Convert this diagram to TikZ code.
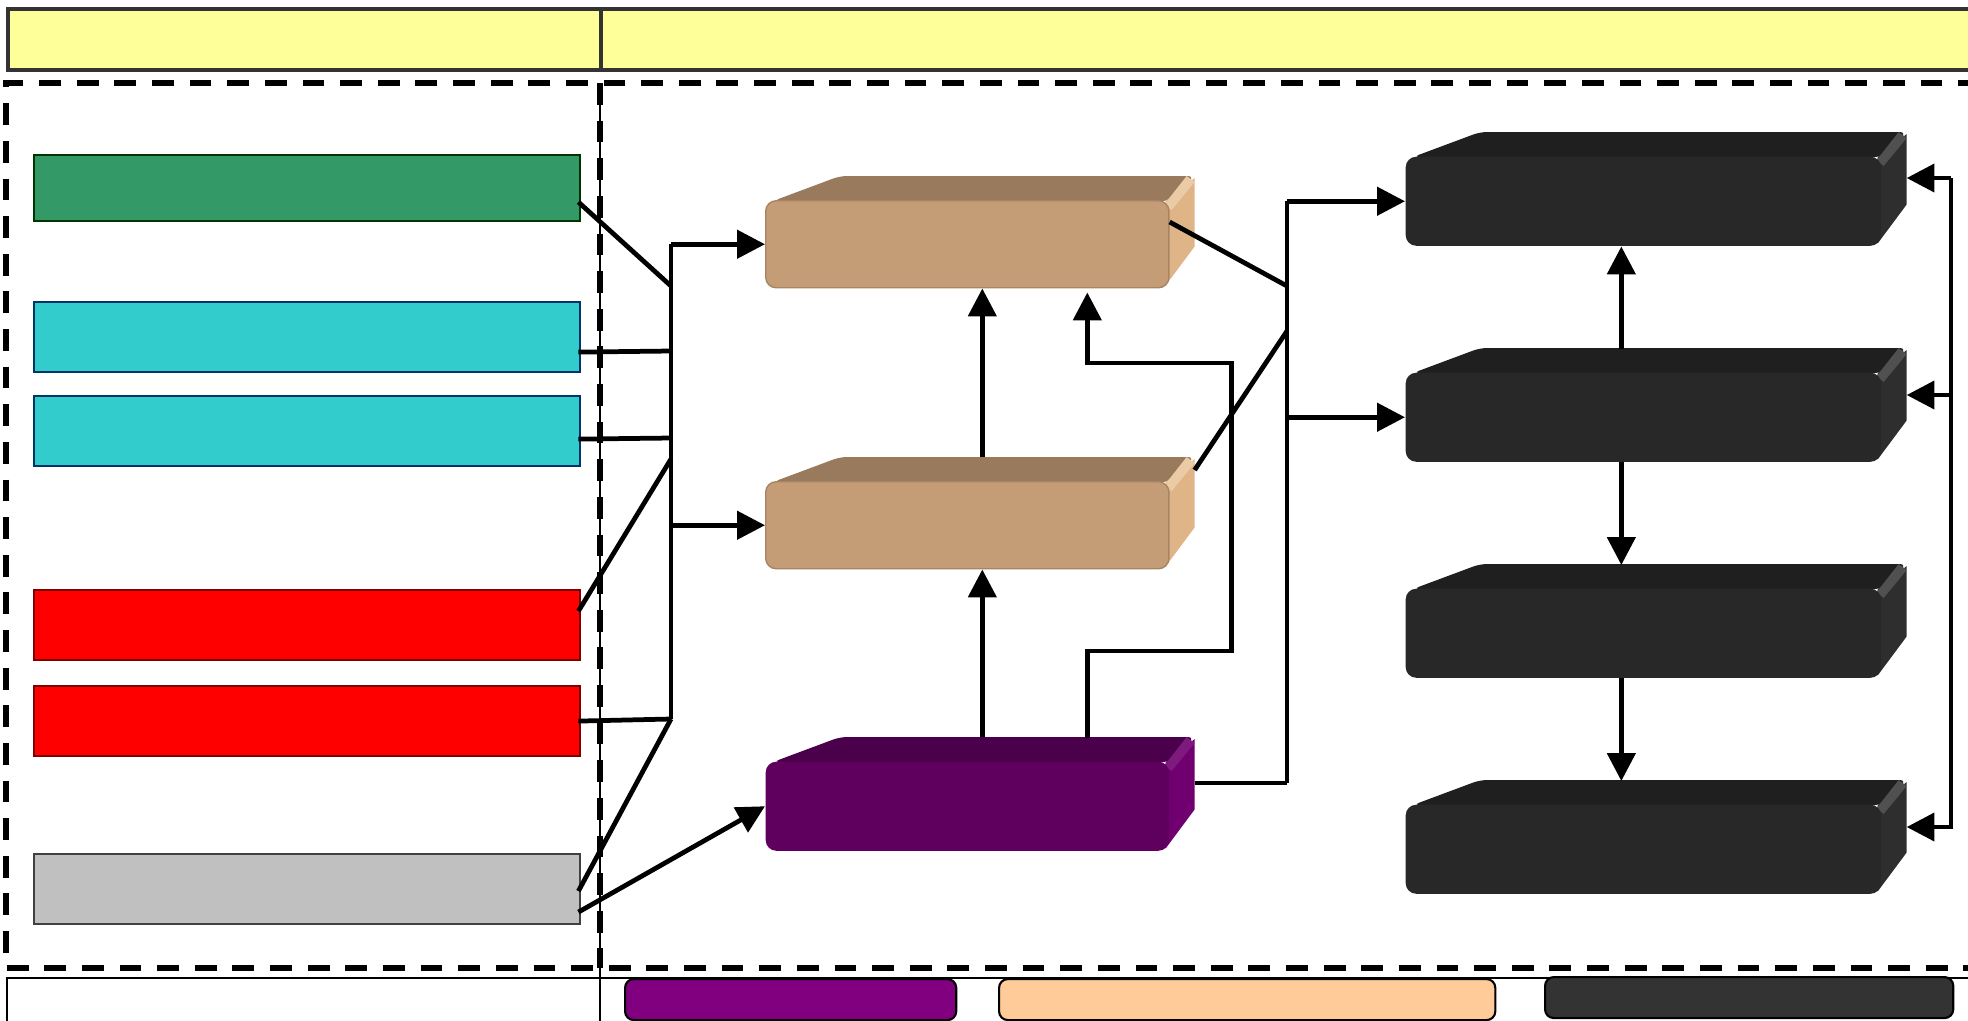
\documentclass[tikz,border=0pt]{standalone}
\usepackage{xcolor}
\usetikzlibrary{arrows.meta,calc,backgrounds}

\definecolor{hdryellow}{HTML}{FFFF99}
\definecolor{hdrline}{HTML}{333333}
\definecolor{srcgreen}{HTML}{339966}
\definecolor{srcgreenln}{HTML}{003300}
\definecolor{srccyan}{HTML}{33CCCC}
\definecolor{srccyanln}{HTML}{003366}
\definecolor{srcred}{HTML}{FF0000}
\definecolor{srcredln}{HTML}{800000}
\definecolor{srcgrey}{HTML}{C0C0C0}
\definecolor{srcgreyln}{HTML}{404040}
\definecolor{tanfront}{HTML}{C49C76}
\definecolor{tantop}{HTML}{997A5C}
\definecolor{tanside}{HTML}{DFB588}
\definecolor{tanbevel}{HTML}{EBCBA6}
\definecolor{purpfront}{HTML}{5F005F}
\definecolor{purptop}{HTML}{4A004A}
\definecolor{purpside}{HTML}{700070}
\definecolor{purpbevel}{HTML}{7E1A7E}
\definecolor{darkfront}{HTML}{282828}
\definecolor{darktop}{HTML}{1F1F1F}
\definecolor{darkside}{HTML}{2E2E2E}
\definecolor{darkbevel}{HTML}{505050}
\definecolor{keypurple}{HTML}{800080}
\definecolor{keytan}{HTML}{FFCC99}
\definecolor{keydark}{HTML}{333333}

\begin{document}
\begin{tikzpicture}[x=0.01cm, y=-0.01cm,
  conn/.style={line width=1.35pt},
  arr/.style={conn, -{Triangle[length=7.9pt,width=7.9pt]}},
  zone/.style={line width=1.5pt, dash pattern=on 6.2pt off 4.5pt},
  srcbox/.style={draw, line width=0.6pt, anchor=north west, inner sep=0pt,
    minimum width=5.46cm, minimum height=0.70cm},
  slab/.style={anchor=north west, inner sep=0pt, rounded corners=3pt,
    minimum width=4.03cm, minimum height=0.87cm},
  dev/.style={anchor=north west, inner sep=0pt, rounded corners=3pt, fill=darkfront,
    minimum width=4.75cm, minimum height=0.89cm},
  keybox/.style={draw=black, line width=0.6pt, anchor=north west, inner sep=0pt,
    rounded corners=2.5pt, minimum height=0.41cm}]

\useasboundingbox (0,0) rectangle (1968,1020);

% Header bar
\draw[hdrline, line width=0.9pt, fill=hdryellow] (8,9) rectangle (1980,70);
\draw[hdrline, line width=0.9pt] (601,9) -- (601,70);

% Dashed zones, legend strip
\draw[zone] (1980,83) -- (6,83) -- (6,968) -- (1980,968);
\draw[zone] (600,83) -- (600,968);
\draw[line width=0.5pt] (600,83) -- (600,1030);
\draw[line width=0.5pt] (7,1030) -- (7,978) -- (1980,978);

% Source boxes
\node[srcbox, fill=srcgreen, draw=srcgreenln, minimum height=0.66cm] (green) at (33,154) {};
\node[srcbox, fill=srccyan, draw=srccyanln] (cyanA) at (33,301) {};
\node[srcbox, fill=srccyan, draw=srccyanln] (cyanB) at (33,395) {};
\node[srcbox, fill=srcred, draw=srcredln] (redA) at (33,589) {};
\node[srcbox, fill=srcred, draw=srcredln] (redB) at (33,685) {};
\node[srcbox, fill=srcgrey, draw=srcgreyln] (grey) at (33,853) {};

% Blocks (front faces)
\node[slab, fill=tanfront, draw=tanfront!85!black, line width=0.4pt] (tanA) at (765,200) {};
\node[slab, fill=tanfront, draw=tanfront!85!black, line width=0.4pt] (tanB) at (765,481) {};
\node[slab, fill=purpfront, minimum height=0.89cm] (purp) at (765,761) {};
\foreach \n/\y in {devA/156, devB/372, devC/588, devD/804}
  \node[dev] (\n) at (1405,\y) {};

% Top and side faces
\begin{scope}[on background layer]
\foreach \n/\tp/\sd/\bv in {tanA/tantop/tanside/tanbevel, tanB/tantop/tanside/tanbevel,
    purp/purptop/purpside/purpbevel, devA/darktop/darkside/darkbevel,
    devB/darktop/darkside/darkbevel, devC/darktop/darkside/darkbevel,
    devD/darktop/darkside/darkbevel} {
  \fill[\tp, rounded corners=2pt] ($(\n.north west)+(8,1)$) -- ($(\n.north west)+(75,-24)$)
    -- ($(\n.north east)+(25,-24)$) -- ($(\n.north east)+(0,1)$) -- cycle;
  \fill[\sd] ($(\n.north east)+(-4,1)$) -- ($(\n.north east)+(25,-22)$)
    -- ($(\n.south east)+(25,-42)$) -- ($(\n.south east)+(-4,-3)$) -- cycle;
  \fill[\bv] ($(\n.north east)+(-5,4)$) -- ($(\n.north east)+(17,-24)$)
    -- ($(\n.north east)+(25,-18)$) -- ($(\n.north east)+(2,10)$) -- cycle;
}
\end{scope}

% Left bus
\coordinate (jGreen) at (671,286);
\coordinate (jCyanA) at (671,351);
\coordinate (jCyanB) at (671,438);
\coordinate (jRed) at (671,459);
\coordinate (jGrey) at (671,719);
\draw[conn] (jGrey) -- (jGrey |- tanA.west);
\draw[arr] (jGrey |- tanA.west) -- (tanA.west);
\draw[arr] (jGrey |- tanB.west) -- (tanB.west);
\draw[conn] ($(green.east)+(-3,14)$) -- (jGreen);
\draw[conn] ($(cyanA.east)+(-3,15)$) -- (jCyanA);
\draw[conn] ($(cyanB.east)+(-3,8)$) -- (jCyanB);
\draw[conn] ($(redA.east)+(-3,-14)$) -- (jRed);
\draw[conn] ($(redB.east)+(-3,0)$) -- (jGrey);
\draw[conn] ($(grey.east)+(-3,2)$) -- (jGrey);
\draw[arr] ($(grey.east)+(-3,23)$) -- (purp.west);

% Middle column
\draw[arr] ($(tanB.north)+(15,-24)$) -- ($(tanA.south)+(15,0)$);
\draw[arr] ($(purp.north)+(15,-24)$) -- ($(tanB.south)+(15,0)$);
\draw[arr] ($(purp.north)+(120,-23)$) -- ++(0,-87) -- ++(144,0) -- ++(0,-288)
  -- ++(-144,0) -- ($(tanA.south)+(120,4)$);

% Right bus
\coordinate (jTanA) at (1287,286);
\coordinate (jTanB) at (1287,331);
\coordinate (jPurp) at (1287,783);
\draw[conn] (jPurp) -- (jPurp |- devA.west);
\draw[arr] (jPurp |- devA.west) -- (devA.west);
\draw[arr] (jPurp |- devB.west) -- (devB.west);
\draw[conn] ($(tanA.north east)+(0,22)$) -- (jTanA);
\draw[conn] ($(tanB.north east)+(25,-11)$) -- (jTanB);
\draw[conn] ($(purp.north east)+(25,22)$) -- (jPurp);

% Right column
\draw[arr] ($(devB.north)+(-22,-23)$) -- ($(devA.south)+(-22,0)$);
\draw[arr] ($(devB.south)+(-22,0)$) -- ($(devC.north)+(-22,-23)$);
\draw[arr] ($(devC.south)+(-22,0)$) -- ($(devD.north)+(-22,-23)$);

% Feedback line
\coordinate (fbTop) at (1951,178);
\coordinate (fbMid) at (1951,395);
\coordinate (fbBot) at (1951,827);
\draw[arr] (fbTop) -- (fbBot) -- ($(devD.north east)+(25,23)$);
\draw[arr] (fbTop) -- ($(devA.north east)+(25,22)$);
\draw[arr] (fbMid) -- ($(devB.north east)+(25,23)$);

% Legend
\node[keybox, fill=keypurple, minimum width=3.31cm] (keyPurp) at (624,978) {};
\node[keybox, fill=keytan, minimum width=4.96cm] (keyTan) at (998,978) {};
\node[keybox, fill=keydark, minimum width=4.08cm] (keyDark) at (1544,976) {};
\end{tikzpicture}
\end{document}
